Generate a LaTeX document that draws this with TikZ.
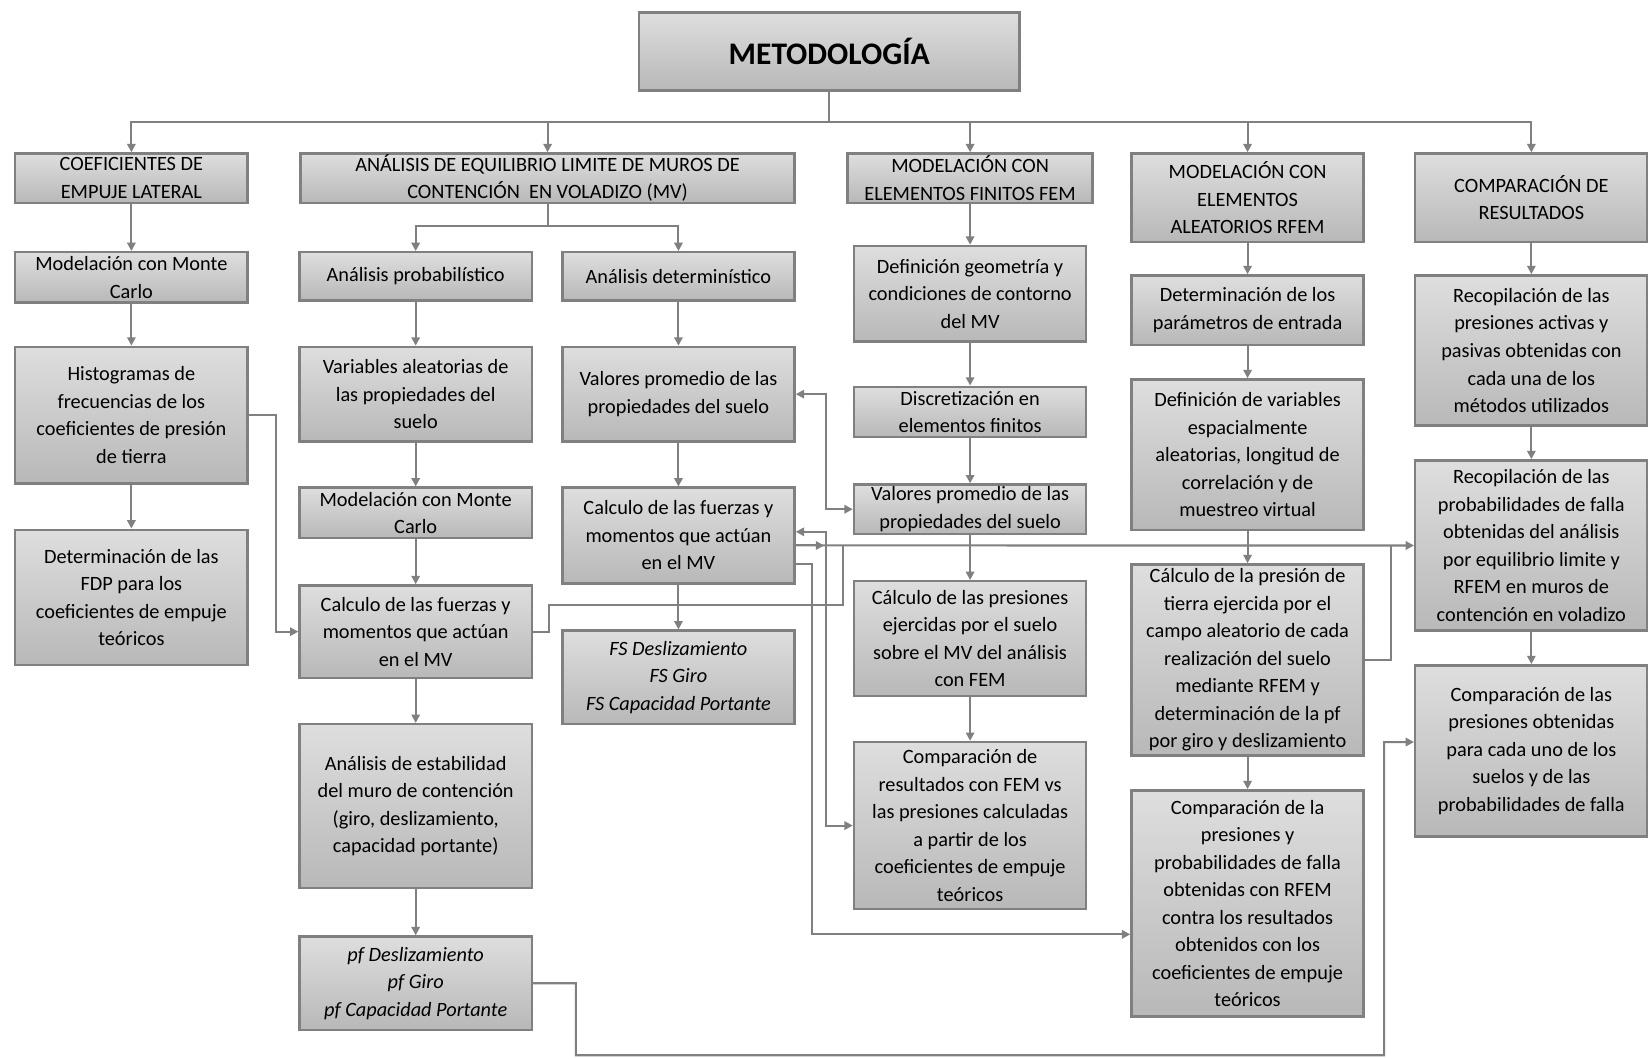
\documentclass[tikz,border=0pt]{standalone}
\usepackage{fontspec}
\setmainfont{Carlito}
\usetikzlibrary{arrows.meta}
\definecolor{boxline}{RGB}{128,128,128}
\definecolor{boxtop}{RGB}{222,222,222}
\definecolor{boxbot}{RGB}{184,184,184}
\begin{document}
\begin{tikzpicture}[x=0.02cm,y=-0.02cm,
  box/.style={draw=boxline, line width=1.3pt, top color=boxtop, bottom color=boxbot,
    align=center, inner sep=0pt, minimum width=4.42cm, font=\fontsize{11}{14.9}\selectfont},
  link/.style={draw=boxline, line width=1.1pt},
  arr/.style={link, -{Triangle[length=4.5pt,width=4.5pt]}},
  arrtwo/.style={link, {Triangle[length=4.5pt,width=4.5pt]}-{Triangle[length=4.5pt,width=4.5pt]}}]
\useasboundingbox (0,0) rectangle (1568,1007);

\node (0) at (789,49) [box, minimum width=7.24cm, minimum height=1.48cm, font=\fontsize{17}{20}\selectfont\bfseries] {METODOLOGÍA};

% cabeceras
\node (1) at (125,169.5) [box, minimum height=0.94cm] {COEFICIENTES DE\\EMPUJE LATERAL};
\node (2) at (521,169.5) [box, minimum width=9.4cm, minimum height=0.94cm] {ANÁLISIS DE EQUILIBRIO LIMITE DE MUROS DE\\CONTENCIÓN~ EN VOLADIZO (MV)};
\node (3) at (923,169.5) [box, minimum width=4.66cm, minimum height=0.94cm] {MODELACIÓN CON\\ELEMENTOS FINITOS FEM};
\node (4) at (1187,188) [box, minimum height=1.68cm] {MODELACIÓN CON\\ELEMENTOS\\ALEATORIOS RFEM};
\node (5) at (1457,188) [box, minimum height=1.68cm] {COMPARACIÓN DE\\RESULTADOS};

% coeficientes
\node (11) at (125,264) [box, minimum height=0.96cm] {Modelación con Monte\\Carlo};
\node (12) at (125,395) [box, minimum height=2.6cm] {Histogramas de\\frecuencias de los\\coeficientes de presión\\de tierra};
\node (13) at (125,568.5) [box, minimum height=2.58cm] {Determinación de las\\FDP para los\\coeficientes de empuje\\teóricos};

% equilibrio limite, probabilistico
\node (21) at (395.5,263) [box, minimum height=0.92cm] {Análisis probabilístico};
\node (22) at (395.5,375) [box, minimum height=1.8cm] {Variables aleatorias de\\las propiedades del\\suelo};
\node (23) at (395.5,488) [box, minimum height=0.96cm] {Modelación con Monte\\Carlo};
\node (24) at (395.5,601) [box, minimum height=1.76cm] {Calculo de las fuerzas y\\momentos que actúan\\en el MV};
\node (25) at (395.5,767) [box, minimum height=3.12cm] {Análisis de estabilidad\\del muro de contención\\(giro, deslizamiento,\\capacidad portante)};
\node (26) at (395.5,935.5) [box, minimum height=1.78cm] {\itshape pf Deslizamiento\\\itshape pf Giro\\\itshape pf Capacidad Portante};

% equilibrio limite, deterministico
\node (61) at (645.5,263) [box, minimum height=0.92cm] {Análisis determinístico};
\node (62) at (645.5,375) [box, minimum height=1.8cm] {Valores promedio de las\\propiedades del suelo};
\node (63) at (645.5,509.5) [box, minimum height=1.82cm] {Calculo de las fuerzas y\\momentos que actúan\\en el MV};
\node (64) at (645.5,644.5) [box, minimum height=1.78cm] {\itshape FS Deslizamiento\\\itshape FS Giro\\\itshape FS Capacidad Portante};

% FEM
\node (31) at (923,279.5) [box, minimum height=1.82cm] {Definición geometría y\\condiciones de contorno\\del MV};
\node (32) at (923,392) [box, minimum height=0.96cm] {Discretización en\\elementos finitos};
\node (33) at (923,484.5) [box, minimum height=0.94cm] {Valores promedio de las\\propiedades del suelo};
\node (34) at (923,607.5) [box, minimum height=2.18cm] {Cálculo de las presiones\\ejercidas por el suelo\\sobre el MV del análisis\\con FEM};
\node (35) at (923,785.5) [box, minimum height=3.18cm] {Comparación de\\resultados con FEM vs\\las presiones calculadas\\a partir de los\\coeficientes de empuje\\teóricos};

% RFEM
\node (41) at (1187,295) [box, minimum height=1.32cm] {Determinación de los\\parámetros de entrada};
\node (42) at (1187,432.5) [box, minimum height=2.86cm] {Definición de variables\\espacialmente\\aleatorias, longitud de\\correlación y de\\muestreo virtual};
\node (43) at (1187,628) [box, minimum height=3.64cm] {Cálculo de la presión de\\tierra ejercida por el\\campo aleatorio de cada\\realización del suelo\\mediante RFEM y\\determinación de la pf\\por giro y deslizamiento};
\node (44) at (1187,859.5) [box, minimum height=4.3cm] {Comparación de la\\presiones y\\probabilidades de falla\\obtenidas con RFEM\\contra los resultados\\obtenidos con los\\coeficientes de empuje\\teóricos};

% comparacion
\node (51) at (1457,333.5) [box, minimum height=2.86cm] {Recopilación de las\\presiones activas y\\pasivas obtenidas con\\cada una de los\\métodos utilizados};
\node (52) at (1457,519) [box, minimum height=3.24cm] {Recopilación de las\\probabilidades de falla\\obtenidas del análisis\\por equilibrio limite y\\RFEM en muros de\\contención en voladizo};
\node (53) at (1457,714.5) [box, minimum height=3.26cm] {Comparación de las\\presiones obtenidas\\para cada uno de los\\suelos y de las\\probabilidades de falla};

\coordinate (b) at (789,116);
\coordinate (s) at (521,215);
\draw[link] (0) -- (b);
\foreach \n in {1,...,5}
  \draw[arr] (b) -| (\n.north);
\draw[link] (2) -- (s);
\draw[arr] (s) -| (21);
\draw[arr] (s) -| (61);

\foreach \a/\b in {1/11,11/12,12/13,21/22,22/23,23/24,24/25,25/26,61/62,62/63,63/64,
  3/31,31/32,32/33,33/34,34/35,4/41,41/42,42/43,43/44,5/51,51/52,52/53}
  \draw[arr] (\a) -- (\b);

\draw[arr] (12.east) -- ++(26,0) |- (24.west);
\draw[arrtwo] (62.east) -- ++(29,0) |- (33.west);
\draw[arrtwo] ([yshift=0.07cm]63.east) -- ++(29,0) |- (35.west);
\draw[arr] ([yshift=-0.19cm]63.east) -- (52.west);
\draw[arr] ([yshift=-0.19cm]63.east) -- ++(27,0);
\draw[arr] ([yshift=-0.55cm]63.east) -- ++(15,0) |- ([yshift=-0.59cm]44.west);
\draw[link] (24.east) -- ++(15,0) |- (802,576) -- (802,519);
\draw[link] (43.east) -| (1323,519);
\draw[arr] (26.east) -| (548,1004) -| (1317,706) -- ([yshift=0.17cm]53.west);
\end{tikzpicture}
\end{document}
